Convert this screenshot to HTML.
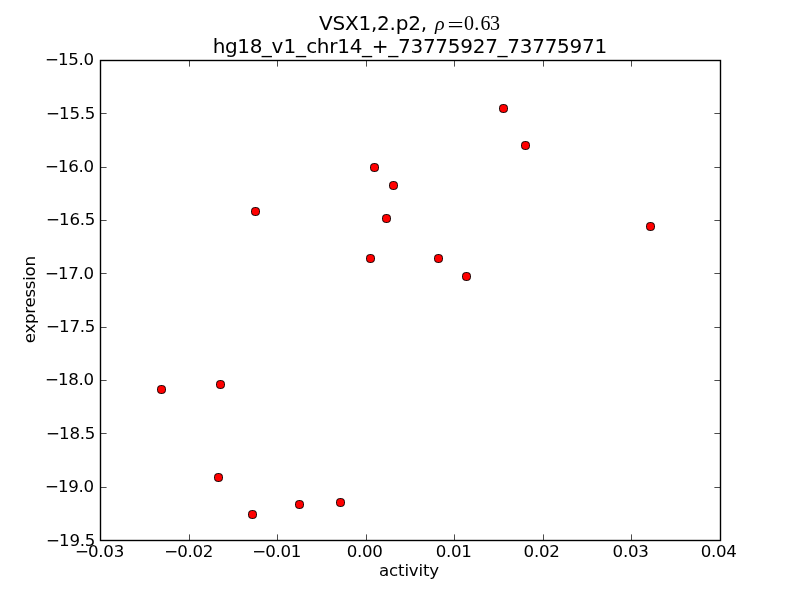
<!DOCTYPE html>
<html lang="en">
<head>
<meta charset="utf-8">
<title>VSX1,2.p2 scatter</title>
<style>
html,body{margin:0;padding:0;background:#fff;}
body{width:800px;height:600px;overflow:hidden;}
svg{display:block;}
text{font-family:"DejaVu Sans","Liberation Sans",sans-serif;fill:#000;}
.tk{font-size:16.667px;letter-spacing:-0.28px;}
.lb{font-size:16.667px;letter-spacing:-0.2px;}
.ttl{font-size:20px;}
.m{font-family:"Liberation Serif","DejaVu Serif",serif;font-size:20px;}
</style>
</head>
<body>
<svg width="800" height="600" viewBox="0 0 800 600">
<rect x="0" y="0" width="800" height="600" fill="#ffffff"/>

<g stroke="#000" stroke-width="0.7" fill="none">
<path d="M189.5 540.5v-6.1M189.5 60.5v6.1"/>
<path d="M277.5 540.5v-6.1M277.5 60.5v6.1"/>
<path d="M366.5 540.5v-6.1M366.5 60.5v6.1"/>
<path d="M454.5 540.5v-6.1M454.5 60.5v6.1"/>
<path d="M543.5 540.5v-6.1M543.5 60.5v6.1"/>
<path d="M631.5 540.5v-6.1M631.5 60.5v6.1"/>
<path d="M100.5 113.5h6.1M720.5 113.5h-6.1"/>
<path d="M100.5 167.5h6.1M720.5 167.5h-6.1"/>
<path d="M100.5 220.5h6.1M720.5 220.5h-6.1"/>
<path d="M100.5 273.5h6.1M720.5 273.5h-6.1"/>
<path d="M100.5 327.5h6.1M720.5 327.5h-6.1"/>
<path d="M100.5 380.5h6.1M720.5 380.5h-6.1"/>
<path d="M100.5 433.5h6.1M720.5 433.5h-6.1"/>
<path d="M100.5 487.5h6.1M720.5 487.5h-6.1"/>
</g>
<g fill="#ff0000" stroke="#000" stroke-width="0.9">
<rect x="499.5" y="104.5" width="8" height="8" rx="3.2"/>
<rect x="521.5" y="141.5" width="8" height="8" rx="3.2"/>
<rect x="370.5" y="163.5" width="8" height="8" rx="3.2"/>
<rect x="389.5" y="181.5" width="8" height="8" rx="3.2"/>
<rect x="251.5" y="207.5" width="8" height="8" rx="3.2"/>
<rect x="382.5" y="214.5" width="8" height="8" rx="3.2"/>
<rect x="646.5" y="222.5" width="8" height="8" rx="3.2"/>
<rect x="366.5" y="254.5" width="8" height="8" rx="3.2"/>
<rect x="434.5" y="254.5" width="8" height="8" rx="3.2"/>
<rect x="462.5" y="272.5" width="8" height="8" rx="3.2"/>
<rect x="216.5" y="380.5" width="8" height="8" rx="3.2"/>
<rect x="157.5" y="385.5" width="8" height="8" rx="3.2"/>
<rect x="214.5" y="473.5" width="8" height="8" rx="3.2"/>
<rect x="248.5" y="510.5" width="8" height="8" rx="3.2"/>
<rect x="295.5" y="500.5" width="8" height="8" rx="3.2"/>
<rect x="336.5" y="498.5" width="8" height="8" rx="3.2"/>
</g>
<rect x="100.5" y="60.5" width="620.0" height="480.0" fill="none" stroke="#000" stroke-width="1.39"/>
<g class="tk">
<text x="75.03" y="557" dx="0 -0.68">−0.03</text>
<text x="164.13" y="557" dx="0 -0.68">−0.02</text>
<text x="252.13" y="557" dx="0 -0.68">−0.01</text>
<text x="346.70" y="557">0.00</text>
<text x="435.70" y="557">0.01</text>
<text x="523.60" y="557">0.02</text>
<text x="612.60" y="557">0.03</text>
<text x="700.70" y="557">0.04</text>
<text x="44.88" y="65" dx="0 -0.68">−15.0</text>
<text x="46.08" y="119" dx="0 -0.68">−15.5</text>
<text x="44.88" y="172" dx="0 -0.68">−16.0</text>
<text x="46.08" y="225" dx="0 -0.68">−16.5</text>
<text x="44.88" y="279" dx="0 -0.68">−17.0</text>
<text x="46.08" y="332" dx="0 -0.68">−17.5</text>
<text x="44.88" y="385" dx="0 -0.68">−18.0</text>
<text x="46.08" y="439" dx="0 -0.68">−18.5</text>
<text x="44.88" y="492" dx="0 -0.68">−19.0</text>
<text x="46.08" y="546" dx="0 -0.68">−19.5</text>
</g>
<g class="lb">
<text x="379.1" y="576">activity</text>
<text transform="translate(34.5 343.2) rotate(-90)" letter-spacing="-0.3">expression</text>
</g>
<g class="ttl">
<text x="319.0" y="30" letter-spacing="-0.22">VSX1,2.p2,</text>
<text class="m" transform="translate(435.05 29.55) scale(1.1 1)" style="font-size:18.2px;font-style:italic">ρ</text>
<text class="m" transform="translate(447.58 32.2) scale(1.39 1)" style="font-size:20.5px">=</text>
<text class="m" x="464 474.2 480.4 490.05" y="29.5">0.63</text>
<text x="212.7" y="53" dx="0 0 -0.25 0 -0.5 0 0.5 0 0.5" letter-spacing="-0.28">hg18_v1_chr14_+_73775927_73775971</text>
</g>
</svg>
</body>
</html>
